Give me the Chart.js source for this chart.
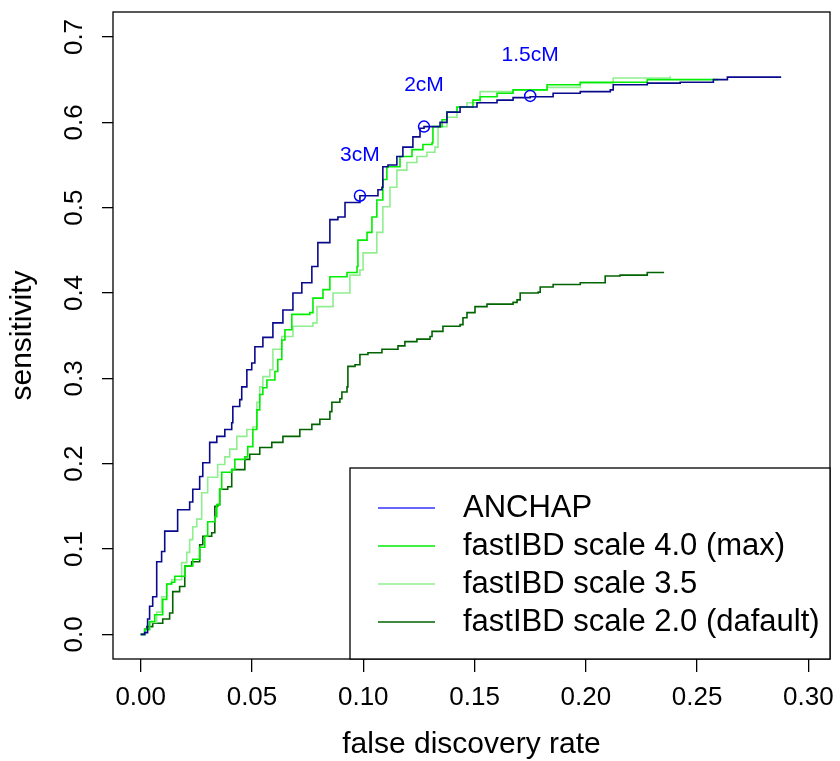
<!DOCTYPE html>
<html>
<head>
<meta charset="utf-8">
<script src="https://cdn.jsdelivr.net/npm/chart.js@4"></script>
<style>
  html, body { margin: 0; padding: 0; background: #fff; }
  #wrap { width: 840px; height: 761px; }
</style>
</head>
<body>
<div id="wrap"><canvas id="roc" width="840" height="761"></canvas></div>
<script>
// [false discovery rate, sensitivity]
const anchap = [[0,0],[0.0018,0.002],[0.0031,0.018],[0.004,0.033],[0.0054,0.044],[0.0072,0.085],[0.0094,0.097],[0.0108,0.121],[0.0153,0.121],[0.0166,0.146],[0.022,0.155],[0.0234,0.170],[0.0265,0.185],[0.0279,0.201],[0.031,0.225],[0.0342,0.232],[0.0378,0.240],[0.0409,0.248],[0.0414,0.267],[0.0445,0.275],[0.0454,0.290],[0.0477,0.310],[0.0499,0.318],[0.0513,0.337],[0.0549,0.348],[0.0594,0.365],[0.0639,0.380],[0.0684,0.400],[0.0724,0.412],[0.0769,0.431],[0.0796,0.459],[0.085,0.486],[0.0886,0.489],[0.0918,0.506],[0.0985,0.514],[0.1066,0.521],[0.1084,0.524],[0.1088,0.548],[0.1111,0.550],[0.1151,0.560],[0.1178,0.571],[0.1223,0.583],[0.1255,0.593],[0.1273,0.595],[0.1345,0.600],[0.1376,0.612],[0.1435,0.618],[0.1511,0.623],[0.1601,0.626],[0.1673,0.629],[0.175,0.630],[0.1853,0.634],[0.1975,0.636],[0.211,0.638],[0.2123,0.644],[0.2276,0.646],[0.2424,0.647],[0.2573,0.650],[0.2636,0.653],[0.2874,0.654]];

const scale40 = [[0,0],[0.0018,0.006],[0.004,0.015],[0.0063,0.023],[0.0099,0.041],[0.0117,0.059],[0.0139,0.061],[0.0153,0.068],[0.0198,0.080],[0.0234,0.088],[0.0265,0.102],[0.0288,0.115],[0.0301,0.132],[0.0333,0.138],[0.0342,0.152],[0.0355,0.170],[0.0364,0.190],[0.0409,0.193],[0.0423,0.205],[0.0468,0.208],[0.0481,0.220],[0.0504,0.240],[0.0522,0.263],[0.0535,0.281],[0.0549,0.289],[0.0567,0.298],[0.0603,0.308],[0.0616,0.322],[0.0634,0.345],[0.0648,0.357],[0.0679,0.375],[0.076,0.377],[0.0774,0.394],[0.0819,0.404],[0.085,0.419],[0.0927,0.424],[0.0972,0.431],[0.0976,0.462],[0.1017,0.471],[0.1039,0.489],[0.1061,0.509],[0.1088,0.533],[0.1106,0.548],[0.1165,0.560],[0.1219,0.568],[0.1268,0.574],[0.1309,0.576],[0.1313,0.595],[0.1354,0.603],[0.1376,0.612],[0.1421,0.618],[0.1493,0.626],[0.1525,0.630],[0.1601,0.634],[0.1673,0.638],[0.1826,0.644],[0.1975,0.647],[0.2276,0.650],[0.2591,0.651]];

const scale35 = [[0,0],[0.0018,0.005],[0.004,0.014],[0.0072,0.026],[0.0094,0.044],[0.0117,0.059],[0.0139,0.064],[0.0184,0.084],[0.0207,0.096],[0.022,0.111],[0.0234,0.126],[0.0252,0.135],[0.0274,0.166],[0.0301,0.184],[0.0346,0.199],[0.0378,0.208],[0.04,0.217],[0.0432,0.232],[0.0477,0.240],[0.0504,0.243],[0.0522,0.272],[0.0535,0.290],[0.0549,0.302],[0.058,0.310],[0.0594,0.334],[0.0634,0.349],[0.0684,0.361],[0.0774,0.365],[0.0792,0.384],[0.0864,0.400],[0.094,0.421],[0.0985,0.427],[0.0999,0.447],[0.1043,0.447],[0.1061,0.471],[0.1088,0.501],[0.112,0.524],[0.1151,0.544],[0.1196,0.553],[0.1241,0.560],[0.1286,0.565],[0.1322,0.571],[0.1336,0.595],[0.1376,0.606],[0.1421,0.618],[0.1466,0.623],[0.1525,0.636],[0.1673,0.638],[0.1826,0.641],[0.1975,0.646],[0.2123,0.652],[0.2379,0.654]];

const scale20 = [[0,0],[0.0018,0.006],[0.0027,0.009],[0.0054,0.013],[0.0099,0.018],[0.013,0.025],[0.0144,0.050],[0.0175,0.056],[0.0198,0.080],[0.0229,0.085],[0.0265,0.105],[0.0279,0.115],[0.0319,0.119],[0.0333,0.150],[0.0346,0.152],[0.0355,0.170],[0.0391,0.173],[0.0409,0.193],[0.0468,0.205],[0.049,0.211],[0.0535,0.219],[0.0589,0.225],[0.0639,0.232],[0.0715,0.240],[0.0769,0.246],[0.0805,0.252],[0.085,0.261],[0.0859,0.272],[0.0895,0.276],[0.0904,0.284],[0.0927,0.290],[0.0931,0.314],[0.0963,0.316],[0.0985,0.328],[0.1021,0.330],[0.1084,0.334],[0.1156,0.338],[0.1187,0.343],[0.1241,0.346],[0.13,0.349],[0.1309,0.355],[0.1358,0.361],[0.1435,0.363],[0.1448,0.371],[0.1466,0.377],[0.1502,0.378],[0.1502,0.384],[0.1556,0.387],[0.1673,0.389],[0.1691,0.392],[0.1705,0.400],[0.1786,0.401],[0.1795,0.407],[0.1853,0.410],[0.1975,0.412],[0.2087,0.412],[0.2087,0.420],[0.2154,0.421],[0.2276,0.424],[0.2348,0.425]];

// ANCHAP length cut-offs
const cutLabels = ['3cM', '2cM', '1.5cM'];
const cutPoints = [[0.0985, 0.514], [0.1273, 0.595], [0.175, 0.631]];

const seriesNames = ['ANCHAP', 'fastIBD scale 4.0 (max)', 'fastIBD scale 3.5', 'fastIBD scale 2.0 (dafault)'];
const lineColors = ['#0a0a8c', '#00ee00', '#90ee90', '#006400'];
const legendColors = ['#3333ff', '#00ee00', '#90ee90', '#006400'];

const xTicks = [0, 0.05, 0.10, 0.15, 0.20, 0.25, 0.30];
const yTicks = [0, 0.1, 0.2, 0.3, 0.4, 0.5, 0.6, 0.7];

const FONT = 'Liberation Sans, Arial, Helvetica, sans-serif';

const toXY = arr => arr.map(p => ({x: p[0], y: p[1]}));
const allSeries = [anchap, scale40, scale35, scale20];

const datasets = allSeries.map((s, i) => ({
  label: seriesNames[i],
  data: toXY(s),
  borderColor: lineColors[i],
  borderWidth: 1.6,
  pointRadius: 0,
  stepped: true,
  fill: false,
  order: i + 1
}));
datasets.push({
  label: 'cuts',
  type: 'scatter',
  data: toXY(cutPoints),
  showLine: false,
  pointStyle: 'circle',
  pointRadius: 5.5,
  borderWidth: 1.5,
  borderColor: '#0000ff',
  backgroundColor: 'rgba(0,0,0,0)',
  order: 0
});

const extras = {
  id: 'extras',
  afterDraw(chart) {
    const {ctx, chartArea: a, scales} = chart;
    ctx.save();
    // plot box
    ctx.strokeStyle = '#000';
    ctx.lineWidth = 1.3;
    ctx.strokeRect(a.left, a.top, a.right - a.left, a.bottom - a.top);

    // rotated y tick labels
    ctx.fillStyle = '#000';
    ctx.font = '26px ' + FONT;
    ctx.textAlign = 'center';
    ctx.textBaseline = 'middle';
    yTicks.forEach(v => {
      const py = scales.y.getPixelForValue(v);
      ctx.save();
      ctx.translate(75, py);
      ctx.rotate(-Math.PI / 2);
      ctx.fillText(v.toFixed(1), 0, 0);
      ctx.restore();
    });

    // cut-off labels
    ctx.fillStyle = '#0000ff';
    ctx.font = '21px ' + FONT;
    cutPoints.forEach((p, i) => {
      const px = scales.x.getPixelForValue(p[0]);
      const py = scales.y.getPixelForValue(p[1]);
      ctx.fillText(cutLabels[i], px, py - 41);
    });

    // legend
    const lx = 350, ly = 468;
    ctx.fillStyle = '#fff';
    ctx.fillRect(lx, ly, a.right - lx, a.bottom - ly);
    ctx.strokeStyle = '#000';
    ctx.lineWidth = 1.3;
    ctx.strokeRect(lx, ly, a.right - lx, a.bottom - ly);
    ctx.font = '31px ' + FONT;
    ctx.textAlign = 'left';
    seriesNames.forEach((name, i) => {
      const y = 508 + i * 38;
      ctx.strokeStyle = legendColors[i];
      ctx.lineWidth = 1.5;
      ctx.beginPath();
      ctx.moveTo(378, y);
      ctx.lineTo(435, y);
      ctx.stroke();
      ctx.fillStyle = '#000';
      ctx.fillText(name, 463, y);
    });
    ctx.restore();
  }
};

new Chart(document.getElementById('roc'), {
  type: 'line',
  data: { datasets },
  options: {
    responsive: false,
    animation: false,
    layout: { padding: { left: 0, right: 10, top: 12, bottom: 0 } },
    plugins: { legend: { display: false }, tooltip: { enabled: false } },
    scales: {
      x: {
        type: 'linear',
        min: -0.01244,
        max: 0.3097,
        afterBuildTicks: s => { s.ticks = xTicks.map(v => ({value: v})); },
        afterFit: s => { s.height = 102; s.paddingLeft = 0; s.paddingRight = 0; },
        border: { display: false },
        grid: { drawOnChartArea: false, drawTicks: true, tickLength: 13, color: '#000', lineWidth: 1.3 },
        ticks: {
          color: '#000',
          font: { family: FONT, size: 26 },
          padding: 10,
          maxRotation: 0,
          callback: v => Number(v).toFixed(2)
        },
        title: {
          display: true,
          text: 'false discovery rate',
          color: '#000',
          font: { family: FONT, size: 30, lineHeight: 1.1 },
          padding: { top: 0, bottom: 0 }
        }
      },
      y: {
        type: 'linear',
        min: -0.0289,
        max: 0.7293,
        afterBuildTicks: s => { s.ticks = yTicks.map(v => ({value: v})); },
        afterFit: s => { s.width = 113; s.paddingTop = 0; s.paddingBottom = 0; },
        border: { display: false },
        grid: { drawOnChartArea: false, drawTicks: true, tickLength: 11, color: '#000', lineWidth: 1.3 },
        ticks: {
          color: 'rgba(0,0,0,0)',
          font: { family: FONT, size: 12 },
          callback: v => Number(v).toFixed(1)
        },
        title: {
          display: true,
          text: 'sensitivity',
          color: '#000',
          font: { family: FONT, size: 30 },
          padding: { top: 5, bottom: 0 }
        }
      }
    }
  },
  plugins: [extras]
});
</script>
</body>
</html>
